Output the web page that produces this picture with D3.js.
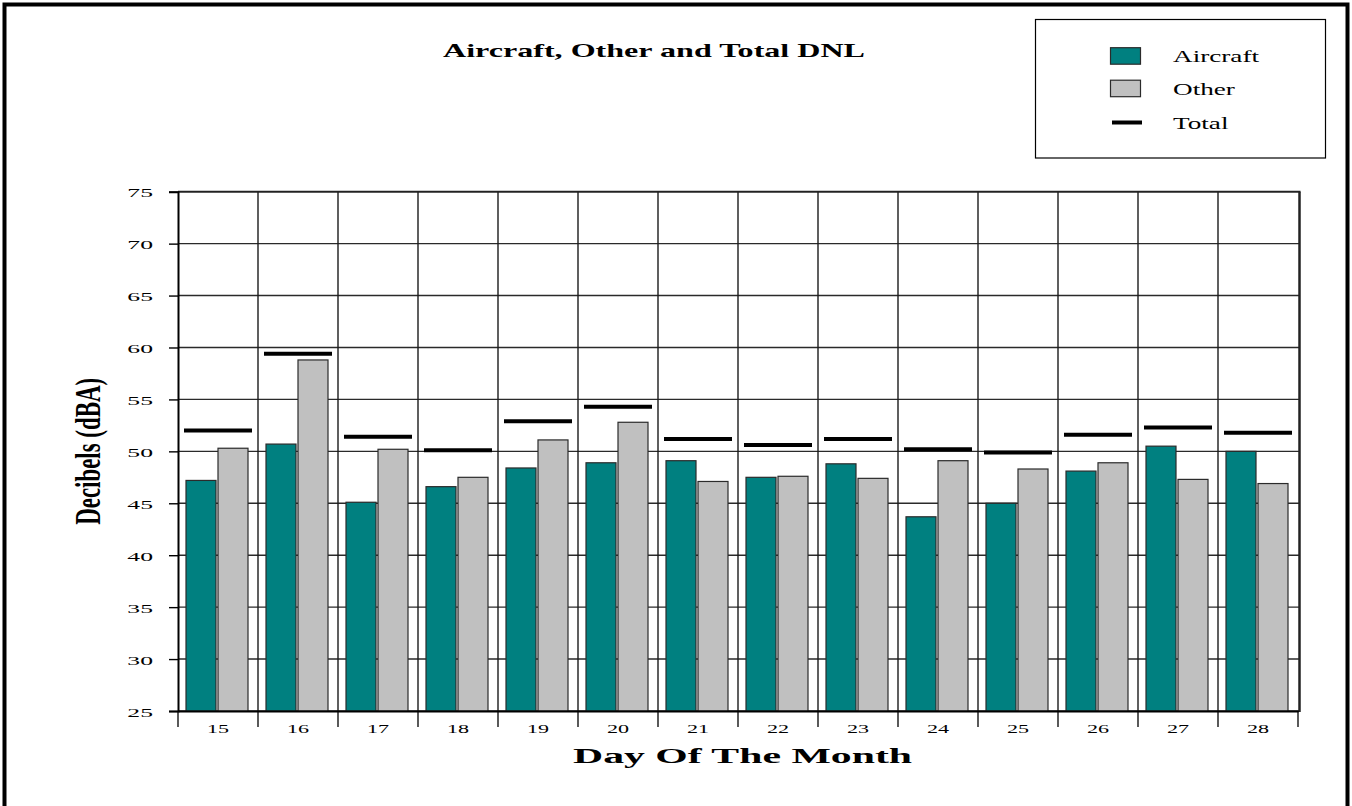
<!DOCTYPE html>
<html>
<head>
<meta charset="utf-8">
<script src="https://cdn.jsdelivr.net/npm/d3@7/dist/d3.min.js"></script>
<style>
  html, body { margin: 0; padding: 0; background: #fff; }
  svg { display: block; }
  text { font-family: "Liberation Serif", "Times New Roman", serif; fill: #000; }
</style>
</head>
<body>
<svg id="chart" width="1352" height="806"></svg>
<script>
// Daily DNL readings (dBA)
const days = ["15", "16", "17", "18", "19", "20", "21", "22", "23", "24", "25", "26", "27", "28"];
const aircraft = [47.2, 50.7, 45.1, 46.6, 48.4, 48.9, 49.1, 47.5, 48.8, 43.7, 45.0, 48.1, 50.5, 50.0];
const other    = [50.3, 58.8, 50.2, 47.5, 51.1, 52.8, 47.1, 47.6, 47.4, 49.1, 48.3, 48.9, 47.3, 46.9];
const total    = [52.0, 59.4, 51.4, 50.1, 52.9, 54.3, 51.2, 50.6, 51.2, 50.2, 49.9, 51.6, 52.3, 51.8];
const seriesNames = ["Aircraft", "Other"];
const yTicks = [25, 30, 35, 40, 45, 50, 55, 60, 65, 70, 75];

const colors = { Aircraft: "#008080", Other: "#c0c0c0" };
const SX = 1.6; // horizontal stretch applied to lettering

const svg = d3.select("#chart");

const plot = { left: 178, right: 1298, top: 191.7, bottom: 711 };

const x = d3.scaleBand().domain(days).range([plot.left, plot.right]).paddingInner(0).paddingOuter(0);
const bw = x.bandwidth();
const x1 = d3.scaleBand().domain(seriesNames)
  .range([bw * 0.1, bw * 0.875]).paddingInner(0.0625).paddingOuter(0);
const y = d3.scaleLinear().domain([25, 75]).range([plot.bottom, plot.top]);

// outer frame (open at the bottom edge)
svg.append("path")
  .attr("d", "M4.5,812 V4.5 H1347.5 V812")
  .attr("fill", "none").attr("stroke", "#000").attr("stroke-width", 4);

// grid
const grid = svg.append("g");
grid.selectAll("line.h").data(yTicks).join("line")
  .attr("x1", plot.left).attr("x2", plot.right + 2)
  .attr("y1", d => y(d)).attr("y2", d => y(d))
  .attr("stroke", "#2a2a2a").attr("stroke-width", 1.4);
grid.selectAll("line.v").data(days.slice(1)).join("line")
  .attr("x1", d => x(d)).attr("x2", d => x(d))
  .attr("y1", plot.top).attr("y2", plot.bottom)
  .attr("stroke", "#1a1a1a").attr("stroke-width", 1.4);

// bars
const groups = svg.append("g").selectAll("g").data(days).join("g")
  .attr("transform", d => `translate(${x(d)},0)`);
groups.selectAll("rect")
  .data((d, i) => [
    { key: "Aircraft", value: aircraft[i] },
    { key: "Other", value: other[i] }
  ])
  .join("rect")
  .attr("x", d => x1(d.key))
  .attr("width", x1.bandwidth())
  .attr("y", d => y(d.value))
  .attr("height", d => y(25) - y(d.value))
  .attr("fill", d => colors[d.key])
  .attr("stroke", "#2b2b2b").attr("stroke-width", 1.2);

// total markers
groups.append("line")
  .attr("x1", bw * 0.075).attr("x2", bw * 0.925)
  .attr("y1", (d, i) => y(total[i])).attr("y2", (d, i) => y(total[i]))
  .attr("stroke", "#000").attr("stroke-width", 4);

// plot border
svg.append("line").attr("x1", plot.right + 1.5).attr("x2", plot.right + 1.5)
  .attr("y1", plot.top).attr("y2", plot.bottom + 1)
  .attr("stroke", "#222").attr("stroke-width", 2.5);
svg.append("line").attr("x1", plot.left).attr("x2", plot.right + 2.5)
  .attr("y1", plot.top).attr("y2", plot.top)
  .attr("stroke", "#222").attr("stroke-width", 1.8);

// y axis
const yAxis = svg.append("g").attr("transform", `translate(${plot.left},0)`)
  .call(d3.axisLeft(y).tickValues(yTicks).tickSize(9).tickPadding(0).tickFormat(d3.format("d")));
yAxis.select(".domain").attr("stroke", "#000").attr("stroke-width", 2);
yAxis.selectAll(".tick line").attr("stroke", "#000").attr("stroke-width", 1.4);
yAxis.selectAll(".tick text")
  .attr("x", null).attr("dy", null)
  .attr("transform", "translate(-25,5) scale(1.9,1)")
  .attr("text-anchor", "end")
  .style("font-family", "'Liberation Serif', serif")
  .style("font-size", "13.5px").attr("fill", "#000");

// x axis
const xAxis = svg.append("g").attr("transform", `translate(0,${plot.bottom})`)
  .call(d3.axisBottom(x).tickSize(0).tickPadding(0));
xAxis.select(".domain").attr("stroke", "#000").attr("stroke-width", 2);
xAxis.selectAll(".tick text")
  .attr("y", null).attr("dy", null)
  .attr("transform", "translate(0,22) scale(1.7,1)")
  .style("font-family", "'Liberation Serif', serif")
  .style("font-size", "13px").attr("fill", "#000");
// boundary tick marks between days
xAxis.selectAll("line.bound").data(days.concat(["end"])).join("line")
  .attr("class", "bound")
  .attr("x1", (d, i) => i < days.length ? x(d) : plot.right)
  .attr("x2", (d, i) => i < days.length ? x(d) : plot.right)
  .attr("y1", 0).attr("y2", 16)
  .attr("stroke", "#000").attr("stroke-width", 1.3);

// title
svg.append("text")
  .attr("x", 443).attr("y", 57)
  .attr("textLength", 422).attr("lengthAdjust", "spacingAndGlyphs")
  .style("font-size", "19px").style("font-weight", "bold")
  .text("Aircraft, Other and Total DNL");

// axis titles
svg.append("text")
  .attr("x", 573).attr("y", 763)
  .attr("textLength", 339).attr("lengthAdjust", "spacingAndGlyphs")
  .style("font-size", "21px").style("font-weight", "bold")
  .text("Day Of The Month");

svg.append("text")
  .attr("transform", `translate(100,${y(50)}) scale(${SX},1) rotate(-90)`)
  .attr("text-anchor", "middle")
  .attr("textLength", 147).attr("lengthAdjust", "spacingAndGlyphs")
  .style("font-size", "23px").style("font-weight", "bold")
  .text("Decibels (dBA)");

// legend
const legend = svg.append("g");
legend.append("rect")
  .attr("x", 1035.5).attr("y", 19.5).attr("width", 290).attr("height", 138.5)
  .attr("fill", "#fff").attr("stroke", "#000").attr("stroke-width", 1.2);
const legendItems = [
  { key: "Aircraft", type: "rect", cy: 56 },
  { key: "Other", type: "rect", cy: 88.5 },
  { key: "Total", type: "line", cy: 122.5 }
];
legendItems.forEach(it => {
  if (it.type === "rect") {
    legend.append("rect")
      .attr("x", 1110.5).attr("y", it.cy - 8.3).attr("width", 30).attr("height", 16.5)
      .attr("fill", colors[it.key]).attr("stroke", "#2b2b2b").attr("stroke-width", 1.2);
  } else {
    legend.append("line")
      .attr("x1", 1112).attr("x2", 1142).attr("y1", it.cy).attr("y2", it.cy)
      .attr("stroke", "#000").attr("stroke-width", 4);
  }
  legend.append("text")
    .attr("transform", `translate(1173,${it.cy + 6}) scale(${SX},1)`)
    .style("font-size", "17px")
    .text(it.key);
});
</script>
</body>
</html>
